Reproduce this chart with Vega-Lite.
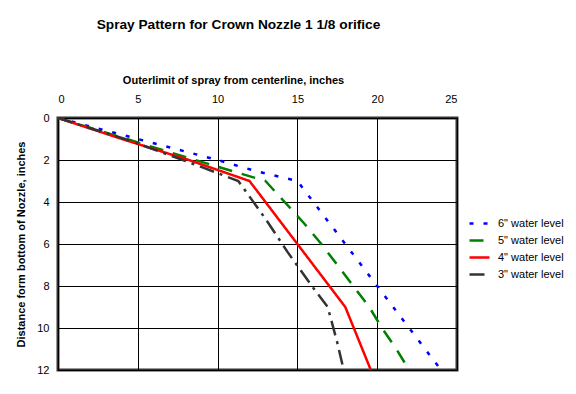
{
  "$schema": "https://vega.github.io/schema/vega-lite/v6.json",
  "autosize": "none",
  "width": 399,
  "height": 252,
  "padding": {"left": 58, "top": 118, "right": 119, "bottom": 24},
  "background": "white",
  "config": {
    "font": "Liberation Sans",
    "view": {"stroke": "#333333", "strokeWidth": 3},
    "axis": {"labelFont": "Liberation Sans", "titleFont": "Liberation Sans", "labelColor": "black", "titleColor": "black"}
  },
  "title": {
    "text": "Spray Pattern for Crown Nozzle 1 1/8 orifice",
    "frame": "group",
    "anchor": "middle",
    "offset": 42,
    "dx": -19,
    "fontSize": 13.7,
    "fontWeight": "bold",
    "font": "Liberation Sans",
    "color": "black"
  },
  "data": {
    "values": [
      {"s": "6\" water level", "x": 0, "y": 0},
      {"s": "6\" water level", "x": 5, "y": 1},
      {"s": "6\" water level", "x": 10, "y": 2},
      {"s": "6\" water level", "x": 12.5, "y": 2.55},
      {"s": "6\" water level", "x": 15, "y": 3},
      {"s": "6\" water level", "x": 18, "y": 6},
      {"s": "6\" water level", "x": 20, "y": 8},
      {"s": "6\" water level", "x": 24, "y": 12},
      {"s": "5\" water level", "x": 0, "y": 0},
      {"s": "5\" water level", "x": 4.3, "y": 1},
      {"s": "5\" water level", "x": 8.6, "y": 2},
      {"s": "5\" water level", "x": 10.8, "y": 2.5},
      {"s": "5\" water level", "x": 13, "y": 3},
      {"s": "5\" water level", "x": 14.2, "y": 4},
      {"s": "5\" water level", "x": 15.4, "y": 5},
      {"s": "5\" water level", "x": 16.5, "y": 6},
      {"s": "5\" water level", "x": 17.5, "y": 7},
      {"s": "5\" water level", "x": 18.5, "y": 8},
      {"s": "5\" water level", "x": 19.5, "y": 9},
      {"s": "5\" water level", "x": 20.3, "y": 10},
      {"s": "5\" water level", "x": 21.2, "y": 11},
      {"s": "5\" water level", "x": 22, "y": 12},
      {"s": "4\" water level", "x": 0, "y": 0},
      {"s": "4\" water level", "x": 4, "y": 1},
      {"s": "4\" water level", "x": 8.2, "y": 2},
      {"s": "4\" water level", "x": 12, "y": 3},
      {"s": "4\" water level", "x": 15, "y": 6},
      {"s": "4\" water level", "x": 18, "y": 9},
      {"s": "4\" water level", "x": 19.6, "y": 12},
      {"s": "3\" water level", "x": 0, "y": 0},
      {"s": "3\" water level", "x": 4.2, "y": 1},
      {"s": "3\" water level", "x": 8, "y": 2.05},
      {"s": "3\" water level", "x": 11.3, "y": 3},
      {"s": "3\" water level", "x": 13, "y": 4.8},
      {"s": "3\" water level", "x": 14.4, "y": 6.4},
      {"s": "3\" water level", "x": 16, "y": 8.1},
      {"s": "3\" water level", "x": 16.9, "y": 9},
      {"s": "3\" water level", "x": 17.5, "y": 10.7},
      {"s": "3\" water level", "x": 17.9, "y": 12}
    ]
  },
  "mark": {"type": "line", "strokeWidth": 2.5, "clip": true},
  "encoding": {
    "x": {
      "field": "x", "type": "quantitative",
      "scale": {"domain": [0, 25], "nice": false},
      "axis": {
        "orient": "top", "values": [0, 5, 10, 15, 20, 25],
        "title": "Outerlimit of spray from centerline, inches",
        "titleFontSize": 11, "titleFontWeight": "bold", "titlePadding": 8,
        "titleX": 175, "titleAnchor": "middle",
        "labelFontSize": 11, "labelPadding": 14, "ticks": false, "domain": false,
        "grid": true, "gridColor": "black", "gridWidth": 1, "gridOpacity": 1
      }
    },
    "y": {
      "field": "y", "type": "quantitative",
      "scale": {"domain": [0, 12], "nice": false, "reverse": true},
      "axis": {
        "values": [0, 2, 4, 6, 8, 10, 12],
        "title": "Distance form bottom of Nozzle, inches",
        "titleFontSize": 11, "titleFontWeight": "bold", "titlePadding": 10,
        "labelFontSize": 11, "labelPadding": 9, "ticks": false, "domain": false,
        "grid": true, "gridColor": "black", "gridWidth": 1, "gridOpacity": 1
      }
    },
    "order": {"field": "y", "type": "quantitative"},
    "color": {
      "field": "s", "type": "nominal",
      "scale": {
        "domain": ["6\" water level", "5\" water level", "4\" water level", "3\" water level"],
        "range": ["#0000ff", "#008000", "#ff0000", "#333333"]
      },
      "legend": {
        "orient": "none", "legendX": 410, "legendY": 94, "title": null,
        "symbolType": "stroke", "symbolSize": 400, "symbolStrokeWidth": 2.5,
        "labelFontSize": 11, "labelFont": "Liberation Sans", "labelColor": "black",
        "labelOffset": 7, "rowPadding": -7, "padding": 0
      }
    },
    "strokeDash": {
      "field": "s", "type": "nominal",
      "scale": {
        "domain": ["6\" water level", "5\" water level", "4\" water level", "3\" water level"],
        "range": [[4, 10], [14, 10], [1, 0], [15, 6, 3, 6]]
      },
      "legend": {
        "orient": "none", "legendX": 410, "legendY": 94, "title": null,
        "symbolType": "stroke", "symbolSize": 400, "symbolStrokeWidth": 2.5,
        "labelFontSize": 11, "labelFont": "Liberation Sans", "labelColor": "black",
        "labelOffset": 7, "rowPadding": -7, "padding": 0
      }
    }
  }
}
